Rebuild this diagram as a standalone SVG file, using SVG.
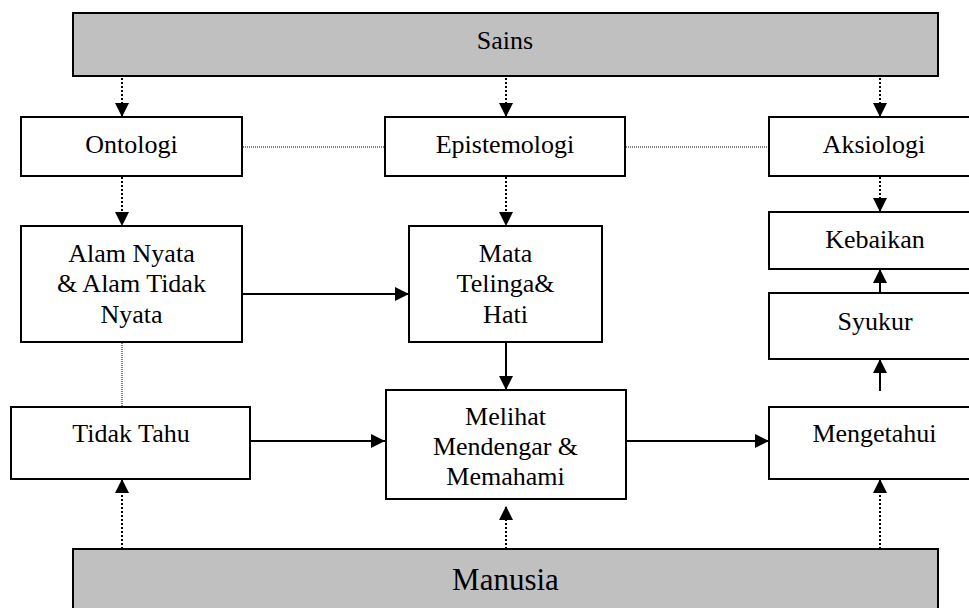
<svg xmlns="http://www.w3.org/2000/svg" width="969" height="608" viewBox="0 0 969 608">
<defs>
<marker id="ah" markerWidth="14" markerHeight="14" refX="14" refY="7" orient="auto" markerUnits="userSpaceOnUse">
<path d="M0,0 L14,7 L0,14 Z" fill="#000"/>
</marker>
<style>
.box{fill:#fff;stroke:#000;stroke-width:2}
.gbox{fill:#c0c0c0;stroke:#000;stroke-width:2}
.solid{stroke:#000;stroke-width:2;fill:none}
.dot{stroke:#000;stroke-width:2;fill:none;stroke-dasharray:2 2}
.thin{stroke:#000;stroke-width:1;fill:none;stroke-dasharray:1 1}
</style>
</defs>
<rect width="969" height="608" fill="#fff"/>
<g id="connectors">
<line class="dot" x1="122" y1="70" x2="122" y2="117" marker-end="url(#ah)"/>
<line class="dot" x1="506" y1="70" x2="506" y2="117" marker-end="url(#ah)"/>
<line class="dot" x1="880" y1="70" x2="880" y2="117" marker-end="url(#ah)"/>
<line class="thin" x1="243" y1="147" x2="385" y2="147"/>
<line class="thin" x1="626" y1="147" x2="769" y2="147"/>
<line class="dot" x1="122" y1="177" x2="122" y2="226" marker-end="url(#ah)"/>
<line class="dot" x1="506" y1="177" x2="506" y2="226" marker-end="url(#ah)"/>
<line class="dot" x1="880" y1="177" x2="880" y2="212" marker-end="url(#ah)"/>
<line class="solid" x1="242" y1="294" x2="409" y2="294" marker-end="url(#ah)"/>
<line class="solid" x1="506" y1="342" x2="506" y2="390" marker-end="url(#ah)"/>
<line class="thin" x1="122" y1="343" x2="122" y2="407"/>
<line class="solid" x1="880" y1="293" x2="880" y2="269" marker-end="url(#ah)"/>
<line class="solid" x1="880" y1="391" x2="880" y2="359" marker-end="url(#ah)"/>
<line class="solid" x1="250" y1="441" x2="385" y2="441" marker-end="url(#ah)"/>
<line class="solid" x1="626" y1="441" x2="769" y2="441" marker-end="url(#ah)"/>
<line class="dot" x1="122" y1="549" x2="122" y2="479" marker-end="url(#ah)"/>
<line class="dot" x1="506" y1="549" x2="506" y2="506" marker-end="url(#ah)"/>
<line class="dot" x1="880" y1="549" x2="880" y2="479" marker-end="url(#ah)"/>
</g>
<g font-family="Liberation Serif" font-size="26" text-anchor="middle" fill="#000">
<g id="sains"><rect class="gbox" x="73" y="13" width="865" height="63"/><text x="505" y="49">Sains</text></g>
<g id="ontologi"><rect class="box" x="21" y="117" width="221" height="59"/><text x="131.5" y="153">Ontologi</text></g>
<g id="epistemologi"><rect class="box" x="385" y="117" width="240" height="59"/><text x="505" y="153">Epistemologi</text></g>
<g id="aksiologi"><rect class="box" x="769" y="117" width="210" height="59"/><text x="874" y="153">Aksiologi</text></g>
<g id="alam"><rect class="box" x="21" y="226" width="221" height="116"/><text x="131.5" y="262">Alam Nyata</text><text x="131.5" y="292">&amp; Alam Tidak</text><text x="131.5" y="323">Nyata</text></g>
<g id="mata"><rect class="box" x="409" y="226" width="193" height="116"/><text x="505.5" y="262">Mata</text><text x="505.5" y="292">Telinga&amp;</text><text x="505.5" y="323">Hati</text></g>
<g id="kebaikan"><rect class="box" x="769" y="212" width="210" height="57"/><text x="875" y="248">Kebaikan</text></g>
<g id="syukur"><rect class="box" x="769" y="293" width="210" height="66"/><text x="875" y="330">Syukur</text></g>
<g id="tidaktahu"><rect class="box" x="11" y="407" width="239" height="72"/><text x="131" y="442">Tidak Tahu</text></g>
<g id="melihat"><rect class="box" x="386" y="390" width="240" height="109"/><text x="505.5" y="425">Melihat</text><text x="505.5" y="455">Mendengar &amp;</text><text x="505.5" y="485">Memahami</text></g>
<g id="mengetahui"><rect class="box" x="769" y="407" width="210" height="72"/><text x="874.5" y="442">Mengetahui</text></g>
<g id="manusia"><rect class="gbox" x="73" y="549" width="865" height="70"/><text x="505.5" y="590" font-size="31">Manusia</text></g>
</g>
</svg>
